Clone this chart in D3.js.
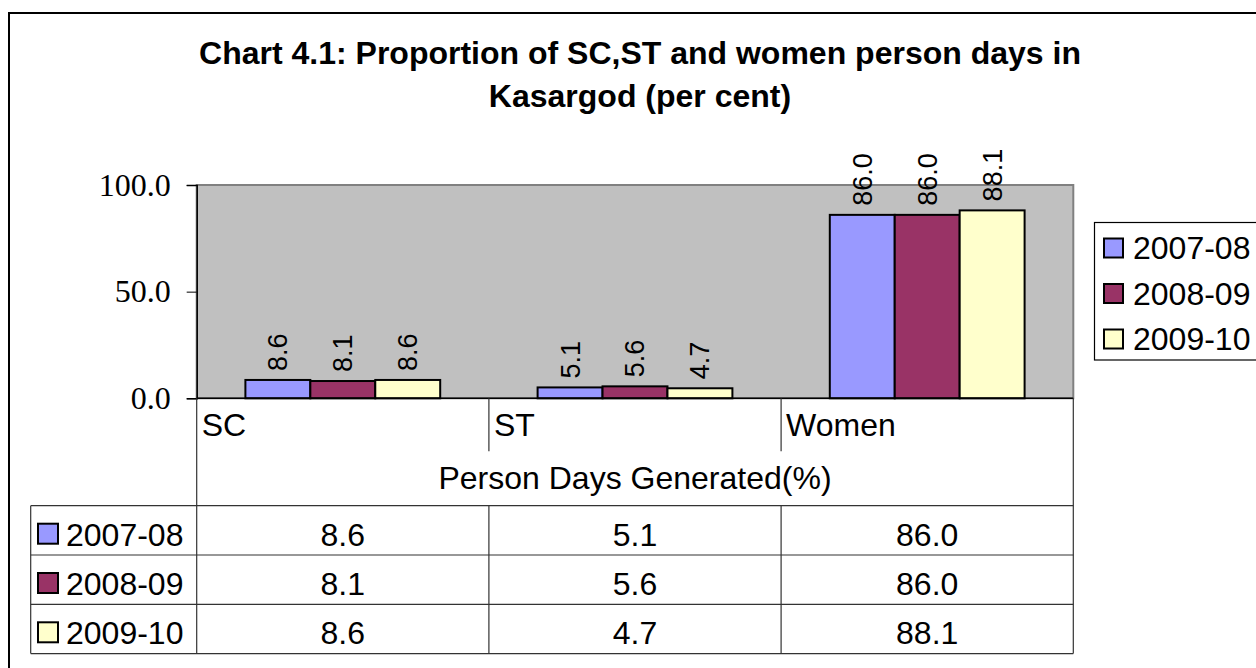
<!DOCTYPE html>
<html>
<head>
<meta charset="utf-8">
<script src="https://cdn.jsdelivr.net/npm/d3@7"></script>
<style>
  body { margin: 0; background: #fff; }
  svg { display: block; }
</style>
</head>
<body>
<div id="chart"></div>
<script>
// data
var categories = ['SC', 'ST', 'Women'];
var seriesNames = ['2007-08', '2008-09', '2009-10'];
var values2007 = [8.6, 5.1, 86.0];
var values2008 = [8.1, 5.6, 86.0];
var values2009 = [8.6, 4.7, 88.1];
var yTicks = [0, 50, 100];
var colors = ['#9999FF', '#993366', '#FFFFCC'];

var seriesValues = [values2007, values2008, values2009];

var width = 1256, height = 668;
var plotL = 196.7, plotR = 1073.3, plotT = 185, plotB = 398.3;
var tableT = 505.7, rowH = 49.3, tableL = 30.7;
var sans = 'Liberation Sans, Arial, sans-serif';
var fs = 32;

var svg = d3.select('#chart').append('svg')
  .attr('width', width)
  .attr('height', height);

// outer chart frame (runs off the right and bottom edge)
svg.append('rect')
  .attr('x', 9).attr('y', 13)
  .attr('width', 1260).attr('height', 700)
  .attr('fill', '#fff')
  .attr('stroke', '#000').attr('stroke-width', 2);

// title
var title = svg.append('text')
  .attr('text-anchor', 'middle')
  .attr('font-family', sans)
  .attr('font-weight', 'bold')
  .attr('font-size', 32);
title.append('tspan').attr('x', 640).attr('y', 64).text('Chart 4.1: Proportion of SC,ST and women person days in');
title.append('tspan').attr('x', 640).attr('y', 107).text('Kasargod (per cent)');

var x0 = d3.scaleBand().domain(categories).range([plotL, plotR]).padding(0);
var x1 = d3.scaleBand().domain(seriesNames).range([0, x0.bandwidth()]).paddingInner(0).paddingOuter(0.75);
var y = d3.scaleLinear().domain([0, 100]).range([plotB, plotT]);

// plot area
svg.append('rect')
  .attr('x', plotL).attr('y', plotT)
  .attr('width', plotR - plotL).attr('height', plotB - plotT)
  .attr('fill', '#C0C0C0')
  .attr('stroke', '#808080').attr('stroke-width', 2);

// bars
var groups = svg.selectAll('g.cat')
  .data(categories)
  .enter().append('g')
  .attr('class', 'cat')
  .attr('transform', function(d) { return 'translate(' + x0(d) + ',0)'; });

groups.each(function(cat, ci) {
  var g = d3.select(this);
  var rows = seriesNames.map(function(s, si) { return { s: s, v: seriesValues[si][ci], i: si }; });
  g.selectAll('rect')
    .data(rows)
    .enter().append('rect')
    .attr('x', function(d) { return x1(d.s); })
    .attr('y', function(d) { return y(d.v); })
    .attr('width', x1.bandwidth())
    .attr('height', function(d) { return y(0) - y(d.v); })
    .attr('fill', function(d) { return colors[d.i]; })
    .attr('stroke', '#000').attr('stroke-width', 2);
  g.selectAll('text.lbl')
    .data(rows)
    .enter().append('text')
    .attr('class', 'lbl')
    .attr('transform', function(d) {
      return 'translate(' + (x1(d.s) + x1.bandwidth() / 2) + ',' + (y(d.v) - 9) + ') rotate(-90)';
    })
    .attr('dy', '0.35em')
    .attr('font-family', sans)
    .attr('font-size', 27)
    .text(function(d) { return d3.format('.1f')(d.v); });
});

// y axis
var yAxis = svg.append('g')
  .attr('transform', 'translate(' + plotL + ',0)')
  .call(d3.axisLeft(y).tickValues(yTicks).tickFormat(d3.format('.1f')).tickSize(10).tickPadding(16));
yAxis.select('.domain').attr('stroke', '#000').attr('stroke-width', 1.5);
yAxis.selectAll('.tick line').attr('stroke', '#000');
yAxis.selectAll('.tick text')
  .attr('font-family', 'Liberation Serif, Times New Roman, serif')
  .attr('font-size', 32)
  .attr('fill', '#000');

// category axis line
svg.append('line')
  .attr('x1', plotL).attr('x2', plotR)
  .attr('y1', plotB).attr('y2', plotB)
  .attr('stroke', '#000').attr('stroke-width', 1.5);

// category label area
var lineColor = '#333';
categories.forEach(function(c, i) {
  if (i > 0) {
    svg.append('line')
      .attr('x1', x0(c)).attr('x2', x0(c))
      .attr('y1', plotB).attr('y2', plotB + 53)
      .attr('stroke', lineColor).attr('stroke-width', 1.2);
  }
  svg.append('text')
    .attr('x', x0(c) + 5).attr('y', 436)
    .attr('font-family', sans)
    .attr('font-size', fs)
    .text(c);
});
svg.append('text')
  .attr('x', (plotL + plotR) / 2).attr('y', 489)
  .attr('text-anchor', 'middle')
  .attr('font-family', sans)
  .attr('font-size', fs)
  .text('Person Days Generated(%)');

svg.append('line')
  .attr('x1', plotL).attr('x2', plotL)
  .attr('y1', plotB).attr('y2', tableT)
  .attr('stroke', lineColor).attr('stroke-width', 1.2);
svg.append('line')
  .attr('x1', plotR).attr('x2', plotR)
  .attr('y1', plotB).attr('y2', tableT + rowH * 3)
  .attr('stroke', lineColor).attr('stroke-width', 1.2);

// data table
var tbl = svg.append('g');
seriesNames.forEach(function(s, si) {
  var top = tableT + si * rowH;
  tbl.append('line')
    .attr('x1', tableL).attr('x2', plotR)
    .attr('y1', top).attr('y2', top)
    .attr('stroke', lineColor).attr('stroke-width', 1.2);
  tbl.append('rect')
    .attr('x', 38).attr('y', top + 18)
    .attr('width', 20).attr('height', 20)
    .attr('fill', colors[si])
    .attr('stroke', '#000').attr('stroke-width', 2);
  tbl.append('text')
    .attr('x', 66).attr('y', top + 40)
    .attr('font-family', sans)
    .attr('font-size', fs)
    .text(s);
  categories.forEach(function(c, ci) {
    tbl.append('text')
      .attr('x', x0(c) + x0.bandwidth() / 2).attr('y', top + 40)
      .attr('text-anchor', 'middle')
      .attr('font-family', sans)
      .attr('font-size', fs)
      .text(d3.format('.1f')(seriesValues[si][ci]));
  });
});
tbl.append('line')
  .attr('x1', tableL).attr('x2', plotR)
  .attr('y1', tableT + rowH * 3).attr('y2', tableT + rowH * 3)
  .attr('stroke', lineColor).attr('stroke-width', 1.2);
tbl.append('line')
  .attr('x1', tableL).attr('x2', tableL)
  .attr('y1', tableT).attr('y2', tableT + rowH * 3)
  .attr('stroke', lineColor).attr('stroke-width', 1.2);
categories.forEach(function(c) {
  tbl.append('line')
    .attr('x1', x0(c)).attr('x2', x0(c))
    .attr('y1', tableT).attr('y2', tableT + rowH * 3)
    .attr('stroke', lineColor).attr('stroke-width', 1.2);
});

// legend
var legend = svg.append('g');
legend.append('rect')
  .attr('x', 1094.5).attr('y', 222.5)
  .attr('width', 200).attr('height', 137.5)
  .attr('fill', '#fff')
  .attr('stroke', '#000').attr('stroke-width', 1.2);
seriesNames.forEach(function(s, si) {
  var cy = 248 + si * 45.5;
  legend.append('rect')
    .attr('x', 1104).attr('y', cy - 9.5)
    .attr('width', 19).attr('height', 19)
    .attr('fill', colors[si])
    .attr('stroke', '#000').attr('stroke-width', 2);
  legend.append('text')
    .attr('x', 1133).attr('y', cy + 11)
    .attr('font-family', sans)
    .attr('font-size', fs)
    .text(s);
});
</script>
</body>
</html>
